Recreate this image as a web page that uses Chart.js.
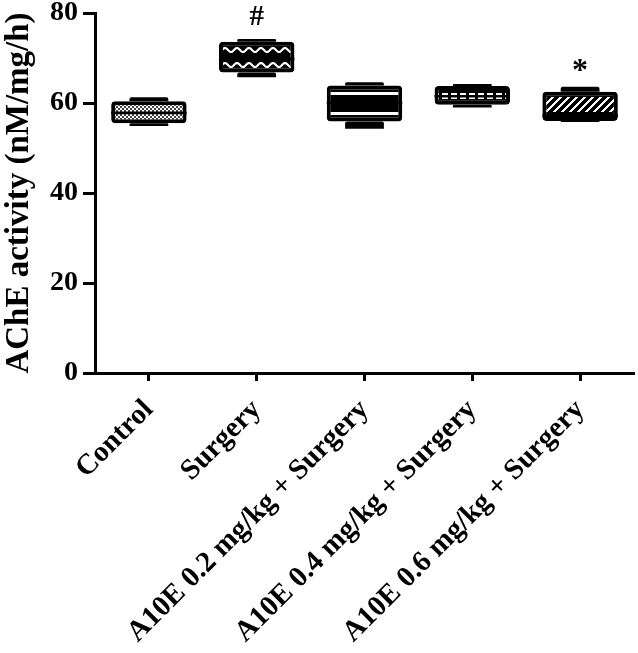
<!DOCTYPE html>
<html>
<head>
<meta charset="utf-8">
<script src="https://cdn.jsdelivr.net/npm/chart.js@4.4.1/dist/chart.umd.min.js"></script>
<style>
  html, body { margin: 0; padding: 0; background: #fff; }
  #wrap { width: 638px; height: 653px; position: relative; }
</style>
</head>
<body>
<div id="wrap"><canvas id="c" width="638" height="653"></canvas></div>
<script>
// ---- Data ----
const categories = ['Control', 'Surgery', 'A10E 0.2 mg/kg + Surgery', 'A10E 0.4 mg/kg + Surgery', 'A10E 0.6 mg/kg + Surgery'];
const whiskerLow  = [54.9, 65.7, 54.3, 59.0, 55.8];
const boxLow      = [55.5, 66.8, 55.9, 59.6, 56.0];
const medians     = [57.8, 69.8, 60.0, 61.5, 57.2];
const boxHigh     = [60.4, 73.6, 63.9, 63.8, 62.5];
const whiskerHigh = [61.3, 74.2, 64.6, 64.2, 63.6];
const marks       = ['', '#', '', '', '*'];
const markValues  = [null, 79.0, null, null, 66.9];
const yMin = 0, yMax = 80, yStep = 20;
const yTitle = 'AChE activity (nM/mg/h)';

// ---- Fill patterns ----
function makePattern(w, h, draw) {
  const cv = document.createElement('canvas');
  cv.width = w; cv.height = h;
  const g = cv.getContext('2d');
  g.fillStyle = '#000'; g.fillRect(0, 0, w, h);
  draw(g, w, h);
  return g.createPattern(cv, 'repeat');
}
const patChecker = makePattern(4, 4, (g) => {
  g.fillStyle = '#fff'; g.fillRect(0, 0, 2, 2); g.fillRect(2, 2, 2, 2);
  g.fillStyle = '#444'; g.fillRect(2, 0, 2, 2); g.fillRect(0, 2, 2, 2);
});
const patWave = makePattern(12, 15, (g) => {
  g.strokeStyle = '#fff'; g.lineWidth = 2.2;
  g.beginPath();
  for (let x = -1; x <= 13; x += 0.5) {
    const y = 5 + 2 * Math.sin(2 * Math.PI * x / 12);
    if (x === -1) g.moveTo(x, y); else g.lineTo(x, y);
  }
  g.stroke();
});
const patStripes = makePattern(8, 20, (g) => {
  g.fillStyle = '#fff'; g.fillRect(0, 12, 8, 3);
});
const patSquares = makePattern(9, 40, (g) => {
  g.fillStyle = '#fff'; g.fillRect(1, 13, 6, 6);
});
const patHatch = makePattern(8, 24, (g) => {
  g.fillStyle = '#fff';
  for (let y = 1; y < 16; y++) {
    for (let x = 0; x < 8; x++) {
      if (((x + y) % 8) < 3) g.fillRect(x, y, 1, 1);
    }
  }
  g.fillRect(1, 19, 4, 3);
});
const boxFills = [patChecker, patWave, patStripes, patSquares, patHatch];

const serif = "'Liberation Serif', 'Times New Roman', serif";

const marksPlugin = {
  id: 'marks',
  afterDatasetsDraw(chart) {
    const { ctx, scales: { x, y } } = chart;
    ctx.save();
    ctx.fillStyle = '#000';
    ctx.textAlign = 'center';
    ctx.textBaseline = 'middle';
    marks.forEach((m, i) => {
      if (!m || markValues[i] == null) return;
      ctx.font = 'bold ' + (m === '*' ? 32 : 29) + 'px ' + serif;
      ctx.fillText(m, x.getPixelForValue(i), y.getPixelForValue(markValues[i]));
    });
    ctx.restore();
  }
};

new Chart(document.getElementById('c'), {
  type: 'bar',
  data: {
    labels: categories,
    datasets: [
      {
        label: 'upper whisker',
        data: categories.map((c, i) => [boxHigh[i], whiskerHigh[i]]),
        backgroundColor: '#000', borderWidth: 0, borderRadius: 2,
        barPercentage: 0.36, categoryPercentage: 1, grouped: false, order: 3
      },
      {
        label: 'lower whisker',
        data: categories.map((c, i) => [whiskerLow[i], boxLow[i]]),
        backgroundColor: '#000', borderWidth: 0, borderRadius: 2,
        barPercentage: 0.36, categoryPercentage: 1, grouped: false, order: 3
      },
      {
        label: 'box',
        data: categories.map((c, i) => [boxLow[i], boxHigh[i]]),
        backgroundColor: boxFills, borderColor: '#000', borderWidth: 4,
        borderRadius: 4, borderSkipped: false,
        barPercentage: 0.70, categoryPercentage: 1, grouped: false, order: 2
      },
      {
        label: 'median',
        data: categories.map((c, i) => [medians[i] - 0.3, medians[i] + 0.3]),
        backgroundColor: '#000', borderWidth: 0,
        barPercentage: 0.70, categoryPercentage: 1, grouped: false, order: 1
      }
    ]
  },
  options: {
    responsive: false,
    animation: false,
    layout: { padding: { top: 13, right: 4, left: 0, bottom: 0 } },
    plugins: { legend: { display: false }, tooltip: { enabled: false } },
    scales: {
      x: {
        offset: true,
        grid: { display: true, drawOnChartArea: false, drawTicks: true, offset: false,
                tickLength: 8, tickWidth: 3, tickColor: '#000', color: '#000' },
        border: { display: true, color: '#000', width: 3 },
        ticks: { autoSkip: false, minRotation: 45, maxRotation: 45, padding: 12,
                 color: '#000', font: { family: serif, size: 29, weight: 'bold' } },
        afterFit(scale) { scale.height = 280; }
      },
      y: {
        min: yMin, max: yMax,
        grid: { display: true, drawOnChartArea: false, drawTicks: true,
                tickLength: 12, tickWidth: 3, tickColor: '#000', color: '#000' },
        border: { display: true, color: '#000', width: 3 },
        ticks: { stepSize: yStep, padding: 5, color: '#000',
                 font: { family: serif, size: 28, weight: 'bold' } },
        title: { display: true, text: yTitle, color: '#000', padding: { top: 0, bottom: 2 },
                 font: { family: serif, size: 33, weight: 'bold' } },
        afterFit(scale) { scale.width = 95; scale.paddingTop = 0; scale.paddingBottom = 0; }
      }
    }
  },
  plugins: [marksPlugin]
});
</script>
</body>
</html>
